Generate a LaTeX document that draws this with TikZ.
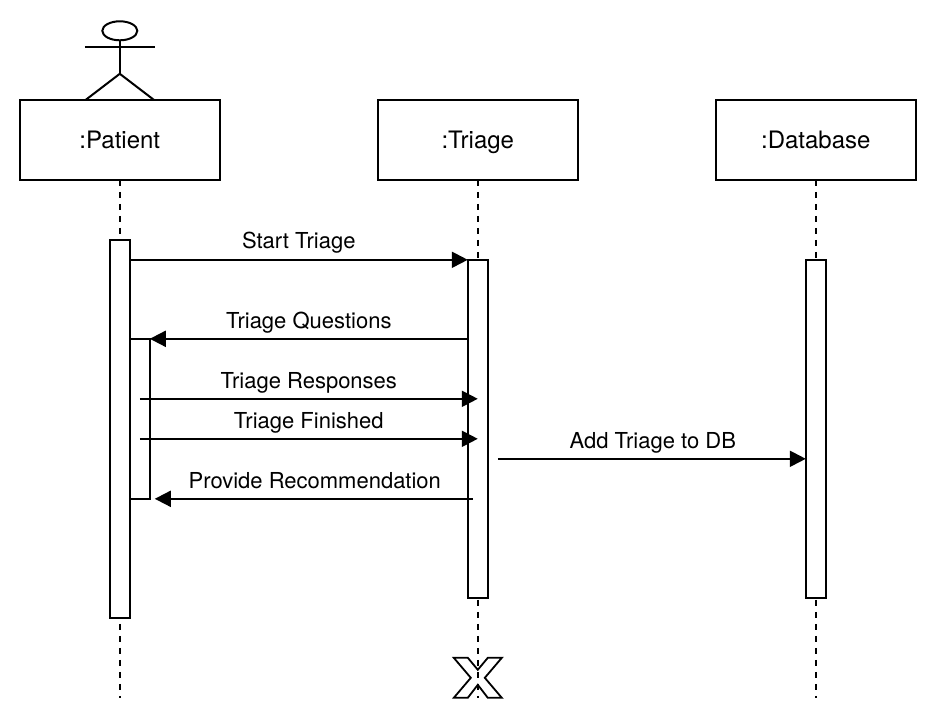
\documentclass[tikz,border=0pt]{standalone}
\usepackage{fontspec}
\setmainfont{TeX Gyre Heros}
\usetikzlibrary{arrows.meta,shapes.geometric}
\tikzset{
  x=1pt,y=-1pt,
  every path/.style={line width=2pt},
  headbox/.style={draw,fill=white,rectangle,minimum width=200pt,minimum height=80pt,inner sep=0pt,text height=19.5pt,text depth=2.5pt,font=\fontsize{24}{28}\selectfont},
  lifebar/.style={draw,fill=white,rectangle,minimum width=20pt,inner sep=0pt},
  lifeline/.style={dash pattern=on 6pt off 6pt},
  msg/.style={-{Triangle[length=16pt,width=16pt]}},
  msglabel/.style={font=\fontsize{22}{26}\selectfont,inner sep=0pt,anchor=base},
}
\begin{document}
\begin{tikzpicture}
\useasboundingbox (0.2,0.2) rectangle (936.2,720.2);
% lifelines
\coordinate (pEnd) at (120,698);
\coordinate (tEnd) at (478,698);
\coordinate (dEnd) at (816,698);
\coordinate (pTop) at (120,180);
\coordinate (tTop) at (478,180);
\coordinate (dTop) at (816,180);
\draw[lifeline] (pTop) -- (pEnd);
\draw[lifeline] (tTop) -- (tEnd);
\draw[lifeline] (dTop) -- (dEnd);
% destroy mark
\draw[line width=1.8pt,line join=miter] (454,658) -- (468,658) -- (478,670) -- (488,658) -- (502,658) -- (485,678) -- (502,698) -- (488,698) -- (478,685) -- (468,698) -- (454,698) -- (471,678) -- cycle;
% actor
\node[draw,ellipse,minimum width=35pt,minimum height=19pt,inner sep=0pt] (head) at (120,31) {};
\coordinate (hip) at (120,74);
\coordinate (armL) at (85,47);
\coordinate (armR) at (155,47);
\coordinate (footL) at (86,100);
\coordinate (footR) at (154,100);
\draw (head.south) -- (hip);
\draw (armL) -- (armR);
\draw (footL) -- (hip) -- (footR);
% heads
\node[headbox] (patient) at (120,140.3) {:Patient};
\node[headbox] (triage) at (478,140.3) {:Triage};
\node[headbox] (database) at (816,140.3) {:Database};
% activations
\node[lifebar,minimum height=378pt] (pBar) at (120,429) {};
\node[lifebar,minimum height=338pt] (tBar) at (478,429) {};
\node[lifebar,minimum height=338pt] (dBar) at (816,429) {};
% self-call bracket
\coordinate (bA) at (130,339);
\coordinate (bB) at (150,339);
\coordinate (bC) at (150,499);
\coordinate (bD) at (130,499);
\draw[line cap=butt] (bA) -- (bB) -- (bC) -- (bD);
% messages
\coordinate (m1a) at (130,260);
\coordinate (m1b) at (468,260);
\draw[msg] (m1a) -- (m1b);
\node[msglabel] (l1) at (299,249) {Start Triage};
\coordinate (m2a) at (468,339);
\coordinate (m2b) at (150,339);
\draw[msg] (m2a) -- (m2b);
\node[msglabel] (l2) at (309,329) {Triage Questions};
\coordinate (m3a) at (140,399);
\coordinate (m3b) at (478,399);
\draw[msg] (m3a) -- (m3b);
\node[msglabel] (l3) at (309,389) {Triage Responses};
\coordinate (m4a) at (140,439);
\coordinate (m4b) at (478,439);
\draw[msg] (m4a) -- (m4b);
\node[msglabel] (l4) at (309,429) {Triage Finished};
\coordinate (m5a) at (498,459);
\coordinate (m5b) at (806,459);
\draw[msg] (m5a) -- (m5b);
\node[msglabel] (l5) at (653,449) {Add Triage to DB};
\coordinate (m6a) at (473,499);
\coordinate (m6b) at (155,499);
\draw[msg] (m6a) -- (m6b);
\node[msglabel] (l6) at (315,488.5) {Provide Recommendation};
\end{tikzpicture}
\end{document}
